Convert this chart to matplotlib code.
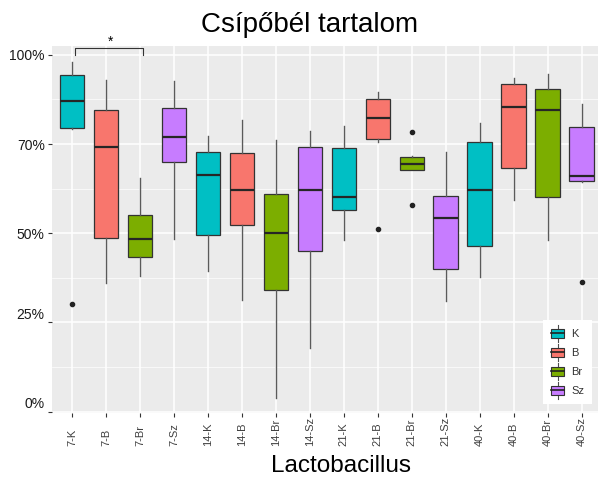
import numpy as np
import matplotlib.pyplot as plt
import matplotlib.transforms as mtransforms
from matplotlib.legend_handler import HandlerBase
from matplotlib.patches import Rectangle, Patch
from matplotlib.lines import Line2D

plt.rcParams['font.family'] = ['Liberation Sans', 'DejaVu Sans']

# groups: day - treatment
groups = ['7-K', '7-B', '7-Br', '7-Sz', '14-K', '14-B', '14-Br', '14-Sz',
          '21-K', '21-B', '21-Br', '21-Sz', '40-K', '40-B', '40-Br', '40-Sz']
kinds = ['K', 'B', 'Br', 'Sz']
colors = {'K': '#00BFC4', 'B': '#F8766D', 'Br': '#7CAE00', 'Sz': '#C77CFF'}

# box statistics (fraction)
whislo = [0.792, 0.360, 0.381, 0.484, 0.395, 0.313, 0.038, 0.178,
          0.481, 0.757, 0.676, 0.311, 0.378, 0.593, 0.481, 0.645]
q1 = [0.796, 0.486, 0.433, 0.701, 0.495, 0.523, 0.340, 0.450,
      0.564, 0.764, 0.678, 0.400, 0.463, 0.684, 0.603, 0.647]
med = [0.872, 0.743, 0.485, 0.771, 0.664, 0.620, 0.502, 0.620,
       0.603, 0.823, 0.694, 0.543, 0.620, 0.854, 0.846, 0.661]
q3 = [0.944, 0.845, 0.551, 0.851, 0.727, 0.725, 0.609, 0.743,
      0.740, 0.876, 0.713, 0.604, 0.755, 0.919, 0.904, 0.799]
whishi = [0.980, 0.930, 0.654, 0.928, 0.773, 0.818, 0.762, 0.788,
          0.801, 0.895, 0.717, 0.728, 0.810, 0.936, 0.946, 0.863]
fliers = [[0.303], [], [], [], [], [], [], [],
          [], [0.511], [0.785, 0.578], [], [], [], [], [0.364]]

yticks = [0, 0.25, 0.5, 0.75, 1.0]
ylabels = ['0%', '25%', '50%', '70%', '100%']


class BoxHandler(HandlerBase):
    # small boxplot glyph for the legend keys
    def create_artists(self, legend, orig_handle, xdescent, ydescent,
                       width, height, fontsize, trans):
        x0, y0 = -xdescent, -ydescent
        cx = x0 + width / 2
        whisk = Line2D([cx, cx], [y0 - 2.5, y0 + height + 2.5], color='#4d4d4d', lw=0.8)
        box = Rectangle((x0, y0), width, height, facecolor=orig_handle.get_facecolor(),
                        edgecolor='#333333', lw=0.8)
        mid = Line2D([x0, x0 + width], [y0 + height / 2] * 2, color='#222222', lw=1.2)
        for a in (whisk, box, mid):
            a.set_transform(trans)
        return [whisk, box, mid]


fig = plt.figure(figsize=(5.98, 4.79), dpi=100)
ax = fig.add_axes([51.6 / 598, 66 / 479, 550.4 / 598, 367 / 479])
ax.set_facecolor('#EBEBEB')
for s in ax.spines.values():
    s.set_visible(False)

pos = np.arange(len(groups))
stats = []
for i, g in enumerate(groups):
    stats.append(dict(label=g, whislo=whislo[i], q1=q1[i], med=med[i],
                      q3=q3[i], whishi=whishi[i], fliers=fliers[i]))

bp = ax.bxp(stats, positions=pos, widths=0.72, patch_artist=True, showcaps=False,
            boxprops=dict(edgecolor='#333333', linewidth=0.9),
            medianprops=dict(color='#262626', linewidth=1.6),
            whiskerprops=dict(color='#5a5a5a', linewidth=1.0),
            flierprops=dict(marker='o', markersize=3, markerfacecolor='#222222',
                            markeredgecolor='#222222'))
for patch, g in zip(bp['boxes'], groups):
    patch.set_facecolor(colors[g.split('-')[1]])

ax.set_xlim(-0.6, 15.6)
ax.set_ylim(-0.004, 1.025)

ax.set_axisbelow(True)
ax.set_yticks(yticks)
ax.set_yticks([0.125, 0.375, 0.625, 0.875], minor=True)
ax.set_yticklabels(ylabels, fontsize=10, color='#1a1a1a')
ax.set_xticks(pos)
ax.set_xticklabels(groups, rotation=90, fontsize=8, color='#404040', va='bottom')
ax.grid(which='major', color='white', linewidth=1.1)
ax.grid(which='minor', axis='y', color='white', linewidth=0.5)
ax.tick_params(axis='both', which='major', length=3, width=0.8, color='#333333')
ax.tick_params(axis='x', pad=20.5)
ax.tick_params(axis='y', pad=2)
ax.tick_params(which='minor', length=0)

# lower two y labels sit a bit higher
shift = mtransforms.ScaledTranslation(0, 6.5 / 72, fig.dpi_scale_trans)
for lab in ax.get_yticklabels()[:2]:
    lab.set_transform(lab.get_transform() + shift)

# significance bracket 7-K vs 7-Br
ax.plot([0.1, 0.1, 2.1, 2.1], [1.0, 1.0205, 1.0205, 1.0], color='#333333',
        lw=0.8, clip_on=False)
ax.text(1.12, 1.036, '*', ha='center', va='center', fontsize=10, clip_on=False)

fig.text(310 / 598, 1 - 25 / 479, 'Csípőbél tartalom', fontsize=20,
         ha='center', va='center')
fig.text(341 / 598, 1 - 466 / 479, 'Lactobacillus', fontsize=17.5,
         ha='center', va='center')

handles = [Patch(facecolor=colors[k], edgecolor='#333333') for k in kinds]
leg = ax.legend(handles, kinds, handler_map={Patch: BoxHandler()},
                loc='lower right', bbox_to_anchor=(1.0, 69 / 479),
                bbox_transform=fig.transFigure, fontsize=8, labelcolor='#333333',
                handlelength=1.2, handleheight=0.95, labelspacing=0.75,
                handletextpad=0.6, borderpad=0.75, frameon=True, fancybox=False,
                edgecolor='none', facecolor='white', framealpha=1)

fig.savefig('out.png', dpi=100)
